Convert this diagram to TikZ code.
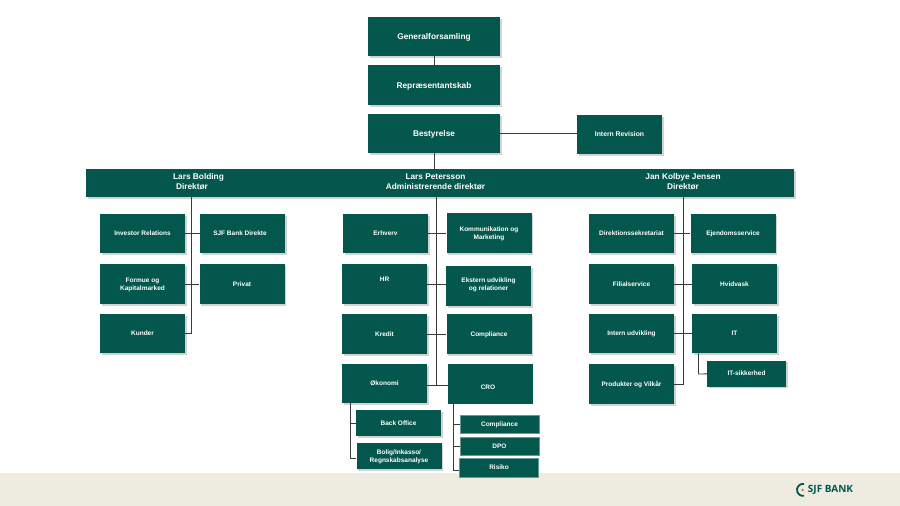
\documentclass[tikz,border=0pt]{standalone}
\usepackage{fontspec}
\setmainfont{Liberation Sans}
\newfontfamily\logofont{Open Sans}
\usetikzlibrary{shadows}
\definecolor{sjfgreen}{HTML}{03574C}
\definecolor{sjfsand}{HTML}{EEEBE1}
\definecolor{sjfline}{HTML}{3A3A3A}
\definecolor{sjfred}{HTML}{D9534F}
\begin{document}
\begin{tikzpicture}[x=1pt,y=-1pt,
	flat/.style = {fill=sjfgreen, text=white, align=center, inner sep=0pt, text depth=0pt, font=\bfseries\fontsize{6.5}{8}\selectfont},
	main/.style = {flat, minimum width=85pt, minimum height=39.5pt, drop shadow={shadow xshift=1.8pt, shadow yshift=-1.8pt, fill=black!35}},
	top/.style = {main, minimum width=132pt, font=\bfseries\fontsize{8.3}{10}\selectfont},
	sub/.style = {main, minimum height=26pt},
	tiny/.style = {flat, minimum width=79pt, minimum height=18.5pt, draw=sjfgreen!60, line width=0.4pt},
	head/.style = {text=white, align=center, inner sep=0pt, font=\bfseries\fontsize{8.3}{9.8}\selectfont},
	link/.style = {draw=sjfline, line width=0.9pt}]
	\useasboundingbox (0,0) rectangle (900,506);
	\fill[sjfsand] (0,473) rectangle (900,506);
	% top of the tree
	\node[top] (general) at (434,36.5) {Generalforsamling};
	\node[top] (repr) at (434,85) {Repræsentantskab};
	\node[top] (board) at (434,133.5) {Bestyrelse};
	\node[main, font=\bfseries\fontsize{6.8}{8}\selectfont] (audit) at (619.5,134.5) {Intern Revision};
	\node[main, minimum width=708pt, minimum height=28pt] (bar) at (440,183) {};
	\node[head] (bolding) at (198.5,181.5) {Lars Bolding\\Direktør\hspace*{13pt}};
	\node[head] (petersson) at (435.5,181.5) {Lars Petersson\\Administrerende direktør};
	\node[head] (jensen) at (683,181.5) {Jan Kolbye Jensen\\Direktør};
	% left column
	\node[main] (investor) at (142.5,233.5) {Investor Relations};
	\node[main] (direkte) at (242.5,233.5) {SJF Bank Direkte\hspace*{5pt}};
	\node[main] (formue) at (142.5,284) {Formue og\\Kapitalmarked};
	\node[main] (privat) at (242,284) {Privat};
	\node[main] (kunder) at (142.5,333.5) {Kunder};
	% middle column
	\node[main] (erhverv) at (385.5,233.5) {Erhverv};
	\node[main] (komm) at (489,233) {Kommunikation og\\Marketing};
	\node[main, text depth=10pt] (hr) at (384.5,284) {HR};
	\node[main, text depth=3pt] (ekstern) at (488.5,286) {Ekstern udvikling\\og relationer};
	\node[main] (kredit) at (384.5,334) {Kredit};
	\node[main] (compl) at (489,334) {Compliance};
	\node[main] (okonomi) at (384.5,383.5) {Økonomi};
	\node[flat, minimum width=85pt, minimum height=40pt, text height=10pt] (cro) at (490.5,384) {CRO\hspace*{5pt}};
	\node[sub] (back) at (398.5,423) {Back Office};
	\node[sub] (bolig) at (399,456) {Bolig/Inkasso/\\Regnskabsanalyse};
	\node[tiny] (compl2) at (499.5,424) {Compliance};
	\node[tiny] (dpo) at (499.5,446) {DPO};
	\node[tiny] (risiko) at (499,467.5) {Risiko};
	% right column
	\node[main] (sekr) at (631.5,233.5) {Direktionssekretariat};
	\node[main] (ejendom) at (733,233.5) {Ejendomsservice};
	\node[main] (filial) at (631.5,284) {Filialservice};
	\node[main] (hvidvask) at (734.5,284) {Hvidvask};
	\node[main] (udvikling) at (631.5,333.5) {Intern udvikling};
	\node[main] (it) at (734.5,333.5) {IT};
	\node[sub, minimum width=79pt] (itsik) at (746.5,373.5) {IT-sikkerhed};
	\node[main] (produkter) at (631.5,384) {Produkter og Vilkår};
	% trunks
	\coordinate (leftend) at (191.5,333.5);
	\coordinate (midend) at (436.5,385);
	\coordinate (rightend) at (683,384);
	\coordinate (okoend) at (350,458);
	\coordinate (croend) at (453.5,470);
	\coordinate (itend) at (698.5,374);
	\draw[link] (general) -- (repr);
	\draw[link] (board) -- (bar.north -| board);
	\draw[link] (board) -- (audit.west |- board);
	\draw[link] (bar.south -| leftend) -- (leftend) -- (kunder.east);
	\draw[link] (bar.south -| midend) -- (midend);
	\draw[link] (bar.south -| rightend) -- (rightend) -- (produkter.east);
	\draw[link] (investor) -- (direkte);
	\draw[link] (formue) -- (privat);
	\draw[link] (erhverv) -- (komm.west |- erhverv);
	\draw[link] (hr.east) -- (ekstern.west |- hr.east);
	\draw[link] (kredit) -- (compl);
	\draw[link] (okonomi.east |- midend) -- (cro.west |- midend);
	\draw[link] (sekr) -- (ejendom);
	\draw[link] (filial) -- (hvidvask);
	\draw[link] (udvikling) -- (it);
	\draw[link] (okonomi.south -| okoend) -- (okoend) -- (okoend -| bolig.west);
	\draw[link] (okoend |- back) -- (back);
	\draw[link] (cro.south -| croend) -- (croend) -- (croend -| risiko.west);
	\draw[link] (croend |- compl2) -- (compl2);
	\draw[link] (croend |- dpo) -- (dpo);
	\draw[link] (it.south -| itend) -- (itend) -- (itsik);
	% logo
	\node[inner sep=0pt, text=sjfgreen, font=\logofont\bfseries\fontsize{10}{10}\selectfont] (logo) at (830.5,489.5) {SJF BANK};
	\node[circle, fill=sjfred, inner sep=0pt, minimum size=2.5pt] (logodot) at (802.5,490) {};
	\draw[sjfgreen, line width=1.8pt] (804,484) arc[start angle=80, end angle=280, radius=6pt];
\end{tikzpicture}
\end{document}
